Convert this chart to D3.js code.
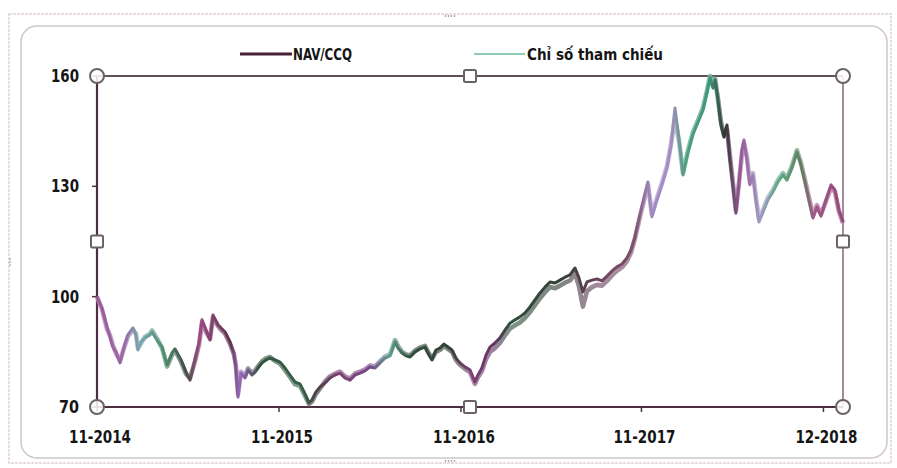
<!DOCTYPE html>
<html><head><meta charset="utf-8">
<script src="https://cdn.jsdelivr.net/npm/d3@7"></script>
<style>html,body{margin:0;padding:0;background:#fff;}svg{display:block;}</style>
</head><body>
<script>
// months since Nov-2014
const months = [0,0.33,0.66,0.86,1.05,1.25,1.52,1.78,2.04,2.37,
2.57,2.70,2.90,3.16,3.49,3.63,3.96,4.29,4.62,4.95,
5.14,5.54,5.87,6.13,6.46,6.73,6.92,7.19,7.45,7.65,
7.98,8.18,8.44,8.77,9.03,9.16,9.30,9.49,9.76,9.96,
10.22,10.42,10.61,10.88,11.14,11.41,11.74,12.07,12.40,12.72,
13.05,13.38,13.65,13.98,14.18,14.44,14.70,15.03,15.36,15.69,
16.02,16.35,16.68,17.01,17.34,17.67,18.00,18.33,18.66,18.99,
19.32,19.65,19.85,20.11,20.37,20.64,20.97,21.30,21.63,21.82,
22.09,22.35,22.61,22.88,23.14,23.41,23.67,23.93,24.26,24.59,
24.92,25.12,25.38,25.65,25.91,26.24,26.57,26.90,27.23,27.56,
27.89,28.22,28.55,28.88,29.21,29.54,29.87,30.20,30.53,30.86,
31.19,31.52,31.78,32.04,32.31,32.64,32.97,33.30,33.63,33.96,
34.28,34.62,34.94,35.21,35.47,35.80,36.07,36.33,36.59,36.92,
37.25,37.58,37.85,38.11,38.38,38.64,38.97,39.30,39.63,39.96,
40.22,40.42,40.62,40.75,40.94,41.14,41.34,41.54,41.74,41.93,
42.13,42.33,42.53,42.66,42.86,43.05,43.25,43.45,43.65,43.91,
44.24,44.57,44.90,45.23,45.49,45.82,46.15,46.42,46.68,46.94,
47.21,47.47,47.74,48.07,48.40,48.66,48.92,49.19];

const nav = [100.0,96.9,91.8,89.0,86.3,85.0,82.0,86.3,89.6,91.5,
89.6,85.5,87.7,88.8,89.6,90.4,88.2,86.3,81.4,84.7,
85.8,82.8,79.5,77.3,82.8,87.4,93.7,90.9,88.2,95.0,
92.3,91.5,90.4,87.7,84.7,80.9,72.7,79.2,77.9,80.1,
78.7,79.5,80.6,82.0,82.8,83.3,82.8,82.2,80.6,78.7,
76.8,76.3,74.1,71.1,71.9,74.1,75.4,76.5,77.9,78.7,
79.2,77.9,77.3,78.7,79.2,79.8,80.9,80.6,82.0,83.3,
83.9,87.7,86.0,84.7,83.9,83.6,85.0,85.8,86.3,84.7,
82.8,85.5,86.0,87.1,86.3,85.5,83.3,82.0,80.9,80.1,
76.8,78.7,80.6,84.1,86.3,87.4,88.8,90.9,92.8,93.7,
94.5,95.6,97.2,99.1,101.0,102.6,104.0,103.7,104.5,105.3,
105.9,107.8,105.1,101.3,104.0,104.5,104.8,104.3,105.6,107.0,
108.1,108.9,110.5,112.7,116.2,122.2,126.8,131.2,121.7,126.3,
130.4,135.0,141.2,151.3,142.6,133.1,139.3,144.2,147.5,150.8,
155.6,159.5,156.7,158.9,153.5,146.7,143.4,146.7,137.2,130.4,
122.7,130.4,139.9,142.6,137.2,130.4,133.1,126.3,120.3,123.0,
126.3,128.5,131.2,133.1,131.7,135.0,139.3,135.8,131.2,126.3,
121.4,124.4,121.9,126.3,130.4,129.0,123.6,120.3];

const ref = [100.0,96.5,91.2,89.4,86.8,84.6,82.6,86.0,89.2,91.0,
90.0,86.0,87.3,89.1,89.9,90.8,88.6,86.0,81.0,84.2,
85.4,82.3,79.0,77.8,82.4,87.0,93.0,90.4,88.6,94.4,
92.0,91.0,90.0,87.2,84.3,81.3,73.5,79.6,78.4,80.5,
79.2,79.9,81.0,82.4,83.2,83.6,82.5,81.8,80.0,78.2,
76.2,75.8,73.6,70.8,71.5,73.6,75.0,76.9,78.3,79.0,
79.6,78.3,77.7,79.1,79.6,80.2,81.3,81.0,82.4,83.7,
84.3,88.2,86.5,85.0,84.3,84.0,85.3,86.2,86.6,85.0,
83.2,85.0,85.5,86.6,85.8,85.0,82.8,81.5,80.4,79.5,
76.3,78.1,79.8,83.0,85.0,86.0,87.4,89.5,91.3,92.2,
93.0,94.2,95.8,97.7,99.6,101.2,102.6,102.3,103.0,103.8,
104.4,106.3,102.8,97.3,101.5,102.6,103.2,103.0,104.3,105.8,
107.0,108.0,109.6,112.0,115.8,121.7,126.2,130.5,122.3,126.8,
130.9,135.4,141.5,148.5,142.2,133.6,139.8,144.8,148.0,151.4,
156.0,160.0,157.2,159.3,154.0,147.5,144.0,145.5,138.0,131.0,
123.4,131.0,139.0,141.8,137.8,131.0,133.6,127.0,121.0,123.6,
126.9,129.0,131.7,133.6,132.2,135.5,139.8,136.3,131.8,127.0,
122.0,124.9,122.4,126.0,129.6,128.5,123.2,120.0];

const seriesNames = ["NAV/CCQ", "Chỉ số tham chiếu"];
const yTicks = [70, 100, 130, 160];
const xTickMonths = [0, 12, 24, 35.9, 47.9];
const xTickLabels = ["11-2014", "11-2015", "11-2016", "11-2017", "12-2018"];

// colour drift of the photographed line (month -> colour)
const tintMonths = [0,1.85,2.8,4.5,5.8,6.8,8.8,9.4,10.7,13.4,14.7,16,18,19.3,20.6,23.3,24.6,26.2,27.2,30.5,33.2,35.5,36.5,37.8,38.8,40.4,41.4,42.4,43.7,45,46.4,47.3,49.19];
const tintColors = ["#9a5a9a","#9a6aa8","#7aa8b0","#4f8a6c","#3f4f46","#9a4a82","#5e3450","#9868b8","#34513f","#356248","#4e4048","#7e4274","#74488a","#5f9e8c","#32503f","#333f38","#7e4274","#603462","#32503f","#333f38","#6e4260","#80506f","#a08ac2","#a88cc4","#4f9f7e","#3f9676","#333333","#985898","#a098c4","#5fa886","#5e805f","#a05888","#94487a"];

const W = 897, H = 468;
const svg = d3.select("body").append("svg").attr("width", W).attr("height", H);
const L = 97, R = 843, T = 76, B = 407;
const x = d3.scaleLinear().domain([0, 49.19]).range([L, R]);
const y = d3.scaleLinear().domain([70, 160]).range([B, T]);
const font = "'Liberation Sans Narrow','DejaVu Sans Condensed','Liberation Sans',sans-serif";

// chart frames
svg.append("rect").attr("x", 9).attr("y", 14).attr("width", 882).attr("height", 449)
  .attr("fill", "none").attr("stroke", "#e2cfdc").attr("stroke-width", 1.5).attr("stroke-dasharray", "3,1");
svg.append("rect").attr("x", 21).attr("y", 26).attr("width", 866).attr("height", 432).attr("rx", 16)
  .attr("fill", "none").attr("stroke", "#cdc6cc").attr("stroke-width", 1.5);
[[450,16],[450,461]].forEach(p => { for (let i = -2; i < 2; i++) svg.append("circle").attr("cx", p[0] + i*3 + 1.5).attr("cy", p[1]).attr("r", 0.8).attr("fill", "#777"); });
for (let i = -1; i <= 1; i++) svg.append("circle").attr("cx", 10).attr("cy", 262 + i*3).attr("r", 0.8).attr("fill", "#888");

// gradients
const defs = svg.append("defs");
function grad(id, lighten) {
  const g = defs.append("linearGradient").attr("id", id).attr("gradientUnits", "userSpaceOnUse")
    .attr("x1", x(0)).attr("x2", x(49.19)).attr("y1", 0).attr("y2", 0);
  tintMonths.forEach((m, i) => {
    g.append("stop").attr("offset", m / 49.19)
      .attr("stop-color", d3.interpolateRgb(tintColors[i], "#ffffff")(lighten));
  });
}
grad("gNav", 0);
grad("gRef", 0.3);

// axes frame
svg.append("line").attr("x1", L).attr("x2", R).attr("y1", T).attr("y2", T).attr("stroke", "#5e5258").attr("stroke-width", 2);
svg.append("line").attr("x1", R).attr("x2", R).attr("y1", T).attr("y2", B).attr("stroke", "#8a6f82").attr("stroke-width", 1.6);
svg.append("line").attr("x1", L).attr("x2", R).attr("y1", B).attr("y2", B).attr("stroke", "#4e2e40").attr("stroke-width", 2.2);
svg.append("line").attr("x1", L).attr("x2", L).attr("y1", T).attr("y2", B).attr("stroke", "#4e2e44").attr("stroke-width", 2.2);

// y ticks and labels
const yg = svg.append("g");
yTicks.forEach(v => {
  yg.append("line").attr("x1", L - 5).attr("x2", L).attr("y1", y(v)).attr("y2", y(v)).attr("stroke", "#4e2e44").attr("stroke-width", 1.5);
  yg.append("text").attr("x", 79).attr("y", y(v)).attr("dy", "0.36em").attr("text-anchor", "end")
    .attr("font-family", font).attr("font-weight", "bold").attr("font-size", 17).attr("fill", "#151515")
    .attr("textLength", v >= 100 ? 28 : 20).attr("lengthAdjust", "spacingAndGlyphs").text(v);
});
// x ticks and labels
xTickMonths.forEach((m, i) => {
  svg.append("line").attr("x1", x(m)).attr("x2", x(m)).attr("y1", B).attr("y2", B + 5).attr("stroke", "#4e2e44").attr("stroke-width", 1.5);
  svg.append("text").attr("x", x(m) + 3).attr("y", 443).attr("text-anchor", "middle")
    .attr("font-family", font).attr("font-weight", "bold").attr("font-size", 18).attr("fill", "#151515")
    .attr("textLength", 62).attr("lengthAdjust", "spacingAndGlyphs").text(xTickLabels[i]);
});

// lines
const line = vals => d3.line().x((d, i) => x(months[i])).y(d => y(d)).curve(d3.curveLinear)(vals);
svg.append("path").attr("d", line(ref)).attr("fill", "none").attr("stroke", "url(#gRef)").attr("stroke-width", 4.6).attr("stroke-linejoin", "round").attr("opacity", 0.9);
svg.append("path").attr("d", line(nav)).attr("fill", "none").attr("stroke", "url(#gNav)").attr("stroke-width", 3).attr("stroke-linejoin", "round");

// selection handles
const handleStroke = "#6a6266";
[[L,T],[R,T],[L,B],[R,B]].forEach(p => {
  svg.append("circle").attr("cx", p[0]).attr("cy", p[1]).attr("r", 7).attr("fill", "#fff").attr("fill-opacity", 0.85)
    .attr("stroke", handleStroke).attr("stroke-width", 2);
});
[[(L+R)/2,T],[(L+R)/2,B],[L,(T+B)/2],[R,(T+B)/2]].forEach(p => {
  svg.append("rect").attr("x", p[0]-6).attr("y", p[1]-6).attr("width", 12).attr("height", 12).attr("rx", 1.5)
    .attr("fill", "#fff").attr("stroke", handleStroke).attr("stroke-width", 2);
});

// legend
const lg = svg.append("g");
lg.append("line").attr("x1", 240).attr("x2", 292).attr("y1", 54).attr("y2", 54).attr("stroke", "#4a2238").attr("stroke-width", 3);
lg.append("text").attr("x", 293).attr("y", 60).attr("font-family", font).attr("font-weight", "bold").attr("font-size", 15)
  .attr("fill", "#151515").attr("textLength", 59).attr("lengthAdjust", "spacingAndGlyphs").text(seriesNames[0]);
lg.append("line").attr("x1", 474).attr("x2", 525).attr("y1", 54).attr("y2", 54).attr("stroke", "#8ccdb4").attr("stroke-width", 2);
lg.append("text").attr("x", 527).attr("y", 60).attr("font-family", font).attr("font-weight", "bold").attr("font-size", 15)
  .attr("fill", "#151515").attr("textLength", 136).attr("lengthAdjust", "spacingAndGlyphs").text(seriesNames[1]);
</script>
</body></html>
